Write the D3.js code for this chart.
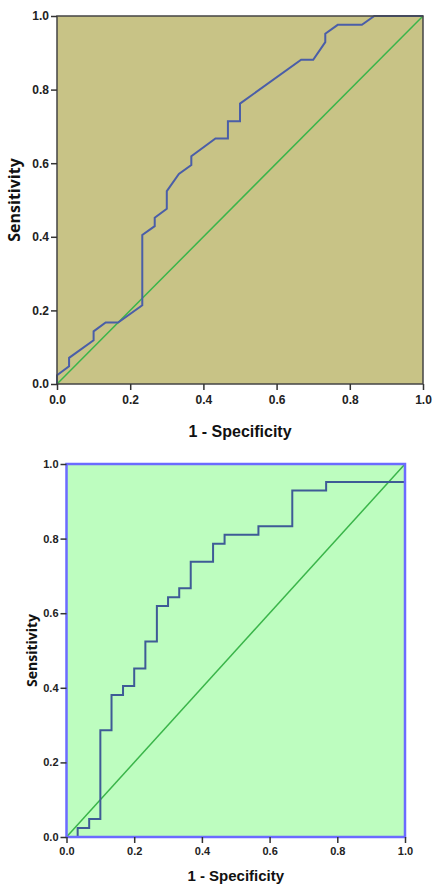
<!DOCTYPE html>
<html>
<head>
<meta charset="utf-8">
<script src="https://cdn.jsdelivr.net/npm/d3@7"></script>
<style>
	html, body { margin: 0; padding: 0; background: #fff; }
	svg { display: block; }
</style>
</head>
<body>
<div id="chart"></div>
<script>
// 上图 ROC 曲线 (1 - specificity, sensitivity)
var topFpr = [0, 0, 0.033, 0.033, 0.1, 0.1, 0.133, 0.167, 0.233, 0.233, 0.267, 0.267, 0.3, 0.3, 0.333, 0.367, 0.367, 0.433, 0.467, 0.467, 0.5, 0.5, 0.667, 0.7, 0.733, 0.733, 0.767, 0.833, 0.867, 1.0];
var topTpr = [0, 0.024, 0.048, 0.071, 0.119, 0.143, 0.167, 0.167, 0.214, 0.405, 0.429, 0.452, 0.476, 0.524, 0.571, 0.595, 0.619, 0.667, 0.667, 0.714, 0.714, 0.762, 0.881, 0.881, 0.929, 0.952, 0.976, 0.976, 1.0, 1.0];

// 下图 ROC 曲线 (阶梯)
var botFpr = [0, 0.033, 0.067, 0.1, 0.133, 0.167, 0.2, 0.233, 0.267, 0.3, 0.333, 0.367, 0.433, 0.467, 0.567, 0.667, 0.767, 1.0];
var botTpr = [0, 0.024, 0.048, 0.286, 0.381, 0.405, 0.452, 0.524, 0.619, 0.643, 0.667, 0.738, 0.786, 0.810, 0.833, 0.929, 0.952, 1.0];

var tickValues = [0, 0.2, 0.4, 0.6, 0.8, 1.0];
var xTitle = '1 - Specificity';
var yTitle = 'Sensitivity';

var svg = d3.select('#chart').append('svg').attr('width', 433).attr('height', 886);

function drawRoc(cfg) {
	var x = d3.scaleLinear().domain([0, 1]).range([cfg.left, cfg.right]);
	var y = d3.scaleLinear().domain([0, 1]).range([cfg.bottom, cfg.top]);
	var g = svg.append('g');

	// 背景
	g.append('rect')
		.attr('x', x(0)).attr('y', y(1))
		.attr('width', x(1) - x(0)).attr('height', y(0) - y(1))
		.attr('fill', cfg.bg);

	// 参考线
	g.append('line')
		.attr('x1', x(0)).attr('y1', y(0)).attr('x2', x(1)).attr('y2', y(1))
		.attr('stroke', cfg.diag).attr('stroke-width', 1.5);

	// 曲线
	var pts = cfg.fpr.map(function (d, i) { return [d, cfg.tpr[i]]; });
	var line = d3.line().x(function (d) { return x(d[0]); }).y(function (d) { return y(d[1]); });
	if (cfg.step) line.curve(d3.curveStepAfter);
	g.append('path').datum(pts)
		.attr('d', line)
		.attr('fill', 'none')
		.attr('stroke', cfg.curve)
		.attr('stroke-width', cfg.curveWidth)
		.attr('stroke-linejoin', 'miter');

	// 边框
	g.append('rect')
		.attr('x', x(0)).attr('y', y(1))
		.attr('width', x(1) - x(0)).attr('height', y(0) - y(1))
		.attr('fill', 'none')
		.attr('stroke', cfg.frame).attr('stroke-width', cfg.frameWidth);

	// 坐标轴
	var fmt = d3.format('.1f');
	var xa = g.append('g').attr('transform', 'translate(0,' + cfg.bottom + ')')
		.call(d3.axisBottom(x).tickValues(tickValues).tickFormat(fmt).tickSize(6).tickSizeOuter(0));
	var ya = g.append('g').attr('transform', 'translate(' + cfg.left + ',0)')
		.call(d3.axisLeft(y).tickValues(tickValues).tickFormat(fmt).tickSize(6).tickSizeOuter(0));
	[xa, ya].forEach(function (a) {
		a.select('.domain').remove();
		a.selectAll('.tick line').attr('stroke', '#333').attr('stroke-width', 1.5);
		a.selectAll('.tick text')
			.attr('fill', '#222')
			.style('font-family', cfg.tickFont)
			.style('font-size', cfg.tickSize + 'px')
			.style('font-weight', 'bold');
	});
	xa.selectAll('.tick text').attr('y', cfg.xTickDy);
	ya.selectAll('.tick text').attr('x', -8);

	// 坐标轴标题
	g.append('text')
		.attr('x', (cfg.left + cfg.right) / 2).attr('y', cfg.xTitleY)
		.attr('text-anchor', 'middle')
		.style('font-family', 'Liberation Sans, Arial, sans-serif')
		.style('font-size', cfg.xTitleSize + 'px').style('font-weight', 'bold')
		.attr('fill', '#111')
		.text(xTitle);
	g.append('text')
		.attr('transform', 'translate(' + cfg.yTitleX + ',' + (cfg.top + cfg.bottom) / 2 + ') rotate(-90)')
		.attr('text-anchor', 'middle')
		.style('font-family', cfg.yTitleFont)
		.style('font-size', cfg.yTitleSize + 'px').style('font-weight', 'bold')
		.attr('fill', '#111')
		.text(yTitle);
}

drawRoc({
	fpr: topFpr, tpr: topTpr, step: false,
	left: 57, right: 423, top: 16, bottom: 384,
	bg: '#c8c386', diag: '#3ab54a', curve: '#4a5ea8', curveWidth: 2,
	frame: '#444', frameWidth: 1.5,
	tickFont: 'Liberation Sans, Arial, sans-serif', tickSize: 12, xTickDy: 11,
	xTitleY: 437, xTitleSize: 16, yTitleX: 20, yTitleFont: 'Open Sans, sans-serif', yTitleSize: 16
});

drawRoc({
	fpr: botFpr, tpr: botTpr, step: true,
	left: 66.5, right: 405, top: 464, bottom: 837,
	bg: '#bdfdbf', diag: '#3ab54a', curve: '#3e5b96', curveWidth: 2,
	frame: '#6b6bff', frameWidth: 2.5,
	tickFont: 'Liberation Sans Narrow, Arial Narrow, Liberation Sans, sans-serif', tickSize: 11, xTickDy: 10,
	xTitleY: 881, xTitleSize: 15, yTitleX: 37, yTitleFont: 'Open Sans, sans-serif', yTitleSize: 14
});
</script>
</body>
</html>
